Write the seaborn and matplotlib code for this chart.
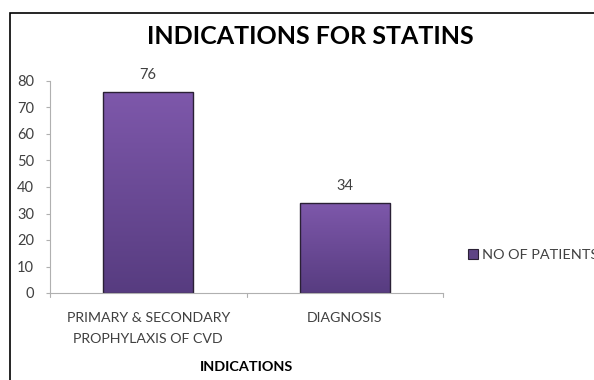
import numpy as np
import pandas as pd
import matplotlib
matplotlib.use("Agg")
import matplotlib.pyplot as plt
import seaborn as sns
from matplotlib.patches import Rectangle
from matplotlib.colors import LinearSegmentedColormap

categories = ["PRIMARY & SECONDARY\nPROPHYLAXIS OF CVD", "DIAGNOSIS"]
patients = [76, 34]
series_name = "NO OF PATIENTS"
yticks = [0, 10, 20, 30, 40, 50, 60, 70, 80]

sns.set_theme(style="white")
plt.rcParams["font.family"] = ["Lato", "DejaVu Sans"]

df = pd.DataFrame({"indication": categories, "count": patients})

W, H = 594, 380
fig = plt.figure(figsize=(W / 100, H / 100), dpi=100)
ax = fig.add_axes([50 / W, 1 - 293 / H, (443 - 50) / W, (293 - 81) / H])

sns.barplot(data=df, x="indication", y="count", ax=ax, color="#6b4a96",
            width=0.46, edgecolor="#2a2035", linewidth=1.0, saturation=1)

# vertical purple gradient inside each bar
cmap = LinearSegmentedColormap.from_list("purp", ["#573c80", "#7e58ab"])
grad = np.linspace(0, 1, 256).reshape(-1, 1)
for p in ax.patches:
    x0, y0 = p.get_x(), p.get_y()
    w, h = p.get_width(), p.get_height()
    im = ax.imshow(grad, cmap=cmap, origin="lower", aspect="auto",
                   extent=[x0, x0 + w, y0, y0 + h], zorder=p.get_zorder() - 0.1)
    im.set_clip_path(p)
    p.set_facecolor("none")
    ax.text(x0 + w / 2, h + 6.4, f"{int(h)}", ha="center", va="center",
            fontsize=10.5, color="#404040")

ax.set_xlim(-0.5, 1.5)
ax.set_ylim(0, 80)
ax.set_yticks(yticks)
ax.set_yticklabels([str(v) for v in yticks], fontsize=10.5, color="#404040")
ax.set_xticks([0, 1])
ax.set_xticklabels(categories, fontsize=10.2, color="#404040", linespacing=1.9)
ax.tick_params(axis="x", length=0, pad=14)
ax.tick_params(axis="y", left=True, length=3, width=0.8, color="#b0b0b0", pad=8.5)

for x in [-0.5, 0.5, 1.5]:
    ax.plot([x, x], [0, -1.6], color="#b0b0b0", lw=0.8, clip_on=False)

for s in ["top", "right"]:
    ax.spines[s].set_visible(False)
for s in ["left", "bottom"]:
    ax.spines[s].set_color("#b0b0b0")
    ax.spines[s].set_linewidth(0.8)

ax.set_ylabel("")
ax.set_xlabel("INDICATIONS", fontsize=10.4, fontweight="bold", color="#000000", labelpad=11)

fig.text(310 / W, 1 - 37 / H, "INDICATIONS FOR STATINS", ha="center", va="center",
         fontsize=18, fontweight="bold", color="#000000")

# legend entry
handle = Rectangle((0, 0), 1, 1, facecolor="#5e4485", edgecolor="#2a2035", lw=0.8)
fig.legend([handle], [series_name], loc="center left",
           bbox_to_anchor=(468 / W, 1 - 255 / H), frameon=False,
           borderpad=0, borderaxespad=0,
           fontsize=10.4, handlelength=0.7, handleheight=0.7, handletextpad=0.3,
           labelcolor="#404040")

# outer frame
fig.patches.append(Rectangle((10 / W, -0.05), 1.2, 1 - 13 / H + 0.05,
                             transform=fig.transFigure, fill=False,
                             edgecolor="black", lw=1.2, zorder=10))

fig.savefig("out.png", dpi=100)
